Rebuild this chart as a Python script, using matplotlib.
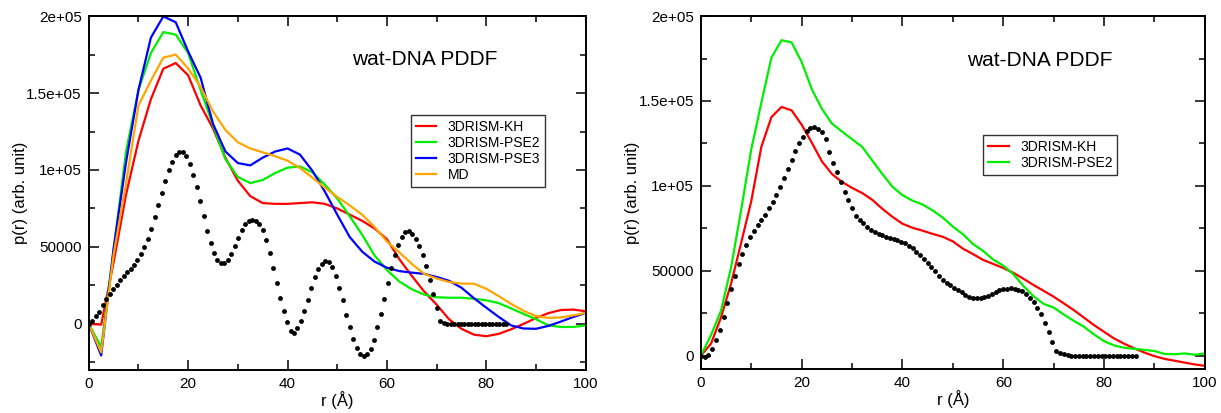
import numpy as np
import matplotlib
matplotlib.use("Agg")
import matplotlib.pyplot as plt
from matplotlib.ticker import MultipleLocator, FixedLocator, FixedFormatter

plt.rcParams['font.family'] = ['Liberation Sans', 'DejaVu Sans']

# ---- left panel: simulated curves on a 2.5 A grid ----
r_left = np.arange(0, 100.1, 2.5)
kh_left = [0, -500, 40000, 84000, 119000, 146000, 165800, 169500, 161500, 142000,
           127000, 108000, 93000, 83000, 78500, 78000, 78000, 78500, 79000, 78000,
           75000, 71000, 67000, 62000, 55000, 42000, 31200, 21000, 12500, 3000,
           -3200, -7000, -8000, -6500, -3500, 0, 3800, 7000, 9000, 9300, 8200]
pse2_left = [0, -15000, 48000, 112000, 152000, 176000, 189600, 188000, 176000, 152000,
             129000, 107000, 95500, 91500, 93500, 98000, 101500, 102300, 98500, 90500,
             81500, 70000, 58000, 44500, 35000, 27500, 22500, 19000, 17300, 17000,
             17000, 16300, 15300, 13500, 10000, 6500, 3000, -1000, -2000, -2000, -1000]
pse3_left = [0, -20500, 49000, 105000, 152000, 186000, 199800, 196000, 177000, 160000,
             130000, 112000, 104500, 103000, 108000, 112000, 114000, 110000, 99500, 86000,
             71000, 56500, 47000, 40500, 36500, 34300, 33300, 32500, 30500, 28000,
             23500, 16700, 10500, 4500, -1000, -3000, -3200, -1300, 1500, 4500, 7100]
md_left = [0, -18500, 45000, 91500, 142000, 158000, 173000, 175000, 166000, 154000,
           138000, 126000, 118000, 114000, 111500, 109000, 106000, 101300, 95000, 88500,
           82500, 77000, 71000, 63000, 53500, 46500, 39000, 32500, 29500, 27200,
           26200, 26100, 22800, 18000, 13000, 8500, 5000, 3900, 4200, 5500, 7100]

# experimental-like dots, 0.7 A spacing
dots_left = [0, 2000, 5000, 7500, 12000, 16000, 19500, 22700, 25500, 28800,
             31400, 33500, 35900, 38500, 41700, 45400, 49700, 55400, 61900, 69200,
             77000, 85000, 92600, 99700, 105400, 109700, 111400, 111400, 108800, 104100,
             96900, 88700, 79600, 69900, 60600, 52600, 46100, 41800, 39600, 39600,
             41800, 45400, 50400, 55800, 60800, 64700, 67100, 67700, 67100, 65100,
             61200, 54700, 46100, 36400, 26600, 16900, 8200, 1000, -4400, -5800,
             -2600, 2100, 8600, 15800, 23400, 30300, 35900, 39000, 41100, 40300,
             36800, 31400, 23400, 15300, 6000, -2200, -9700, -15800, -19500, -21000,
             -19500, -16000, -10200, -2200, 6700, 16400, 26600, 36400, 44500, 51500,
             56500, 59500, 60100, 58400, 55200, 50400, 45000, 37900, 28800, 19700,
             10400, 1700, 300, 100, 0, 0, 0, 0, 0, 0,
             0, 0, 0, 0, 0, 0, 0, 0, 0, 0, 0]

# ---- right panel: curves on a 2 A grid ----
r_right = np.arange(0, 100.1, 2.0)
kh_right = [0, 7000, 22500, 42500, 66500, 91000, 123000, 140500, 146500, 144500,
            136000, 125500, 114500, 107000, 102300, 98800, 95800, 91800, 86500, 81800,
            77700, 75300, 73600, 71700, 70000, 67300, 63000, 59800, 56400, 54000,
            51600, 48800, 45300, 41600, 38200, 34700, 30800, 26800, 22400, 18000,
            14000, 10100, 7000, 4300, 1800, -300, -1900, -3000, -4100, -5200, -6000]
pse2_right = [0, 12000, 26500, 52000, 86000, 121500, 149000, 175500, 185800, 184500,
              173000, 157000, 145500, 136700, 132000, 127500, 123000, 115000, 107000, 99500,
              94500, 91300, 89000, 85500, 81300, 76000, 71500, 65700, 61700, 56600,
              53000, 48000, 41000, 35000, 30500, 28300, 24200, 20500, 17000, 12500,
              8500, 6000, 4600, 4000, 3400, 2700, 1000, 800, 1300, 500, 1300]

# dots, 0.75 A spacing
dots_right = [0, -800, 300, 4000, 9000, 15000, 23000, 31000, 39000, 47000,
              54000, 60000, 65000, 69700, 73200, 76700, 80000, 83000, 86800, 90300,
              94500, 99500, 104900, 110000, 115100, 120700, 125500, 129000, 132400, 134200,
              134600, 133500, 131500, 127500, 120000, 113500, 108000, 102000, 96500, 91500,
              86800, 82400, 79800, 78000, 75800, 74200, 72800, 71700, 70800, 70100,
              69400, 68900, 68100, 67200, 66200, 64700, 63200, 61300, 59200, 56800,
              54500, 52000, 49700, 47200, 44800, 42800, 41500, 40100, 38800, 37200,
              35900, 34700, 34100, 33900, 33900, 34400, 35200, 36300, 37400, 38400,
              39100, 39500, 39600, 39400, 38800, 37800, 36200, 34000, 31400, 28300,
              24500, 19000, 13700, 7800, 2500, 1500, 800, 400,
              0, 0, 0, 0, 0, 0, 0, 0, 0, 0, 0, 0, 0, 0, 0, 0, 0, 0]

ytick_vals = [0, 50000, 100000, 150000, 200000]
ytick_text = ['0', '50000', '1e+05', '1.5e+05', '2e+05']
title_text = 'wat-DNA PDDF'


def style_axes(ax, ymin):
    ax.set_xlim(0, 100)
    ax.set_ylim(ymin, 200000)
    ax.xaxis.set_major_locator(MultipleLocator(20))
    ax.xaxis.set_minor_locator(MultipleLocator(10))
    ax.yaxis.set_major_locator(FixedLocator(ytick_vals))
    ax.yaxis.set_major_formatter(FixedFormatter(ytick_text))
    ax.yaxis.set_minor_locator(MultipleLocator(25000))
    ax.tick_params(which='both', direction='in', top=True, right=True,
                   labelsize=11, width=1.1, pad=5)
    ax.tick_params(which='major', length=7)
    ax.tick_params(which='minor', length=4)
    for s in ax.spines.values():
        s.set_linewidth(1.4)
    ax.set_xlabel('r (\u00c5)', fontsize=12, labelpad=0)
    ax.set_ylabel('p(r) (arb. unit)', fontsize=12, labelpad=-1)


fig = plt.figure(figsize=(12.21, 4.13), dpi=100)

# left panel
ax1 = fig.add_axes([0.0727, 0.104, 0.407, 0.857])
ax1.plot(r_left, kh_left, color='#ff0000', lw=1.6, label='3DRISM-KH')
ax1.plot(r_left, pse2_left, color='#00ee00', lw=1.6, label='3DRISM-PSE2')
ax1.plot(r_left, pse3_left, color='#0000ff', lw=1.6, label='3DRISM-PSE3')
ax1.plot(r_left, md_left, color='#ffa500', lw=1.6, label='MD')
ax1.plot(np.arange(len(dots_left)) * 0.7, dots_left, 'o', color='black',
         ms=3.5, mew=0, ls='none')
style_axes(ax1, -30000)
ax1.text(0.676, 0.876, title_text, transform=ax1.transAxes, fontsize=15,
         ha='center', va='center')
leg1 = ax1.legend(loc='upper left', bbox_to_anchor=(0.648, 0.72), fontsize=10,
                  frameon=True, fancybox=False, edgecolor='black',
                  handlelength=1.5, handletextpad=0.8, labelspacing=0.15,
                  borderpad=0.35, borderaxespad=0)
leg1.get_frame().set_linewidth(1.0)

# right panel
ax2 = fig.add_axes([0.574, 0.106, 0.4128, 0.855])
ax2.plot(r_right, kh_right, color='#ff0000', lw=1.6, label='3DRISM-KH')
ax2.plot(r_right, pse2_right, color='#00ee00', lw=1.6, label='3DRISM-PSE2')
ax2.plot(np.arange(len(dots_right)) * 0.75, dots_right, 'o', color='black',
         ms=3.5, mew=0, ls='none')
style_axes(ax2, -8000)
ax2.text(0.673, 0.875, title_text, transform=ax2.transAxes, fontsize=15,
         ha='center', va='center')
leg2 = ax2.legend(loc='upper left', bbox_to_anchor=(0.56, 0.663), fontsize=10,
                  frameon=True, fancybox=False, edgecolor='black',
                  handlelength=1.5, handletextpad=0.8, labelspacing=0.15,
                  borderpad=0.35, borderaxespad=0)
leg2.get_frame().set_linewidth(1.0)

fig.savefig('out.png', dpi=100)
